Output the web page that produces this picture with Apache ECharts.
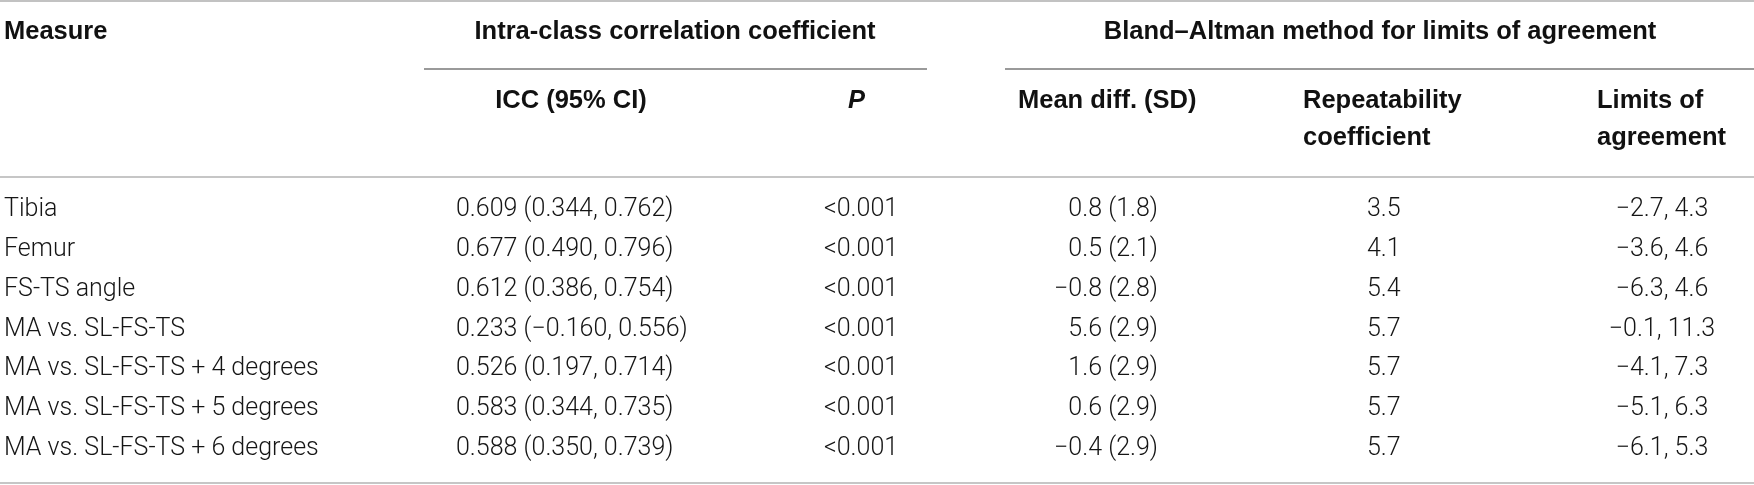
<!DOCTYPE html>
<html><head><meta charset="utf-8">
<script src="https://cdn.jsdelivr.net/npm/echarts@6/dist/echarts.min.js"></script>
<style>html,body{margin:0;padding:0;background:#fff}#c{width:1754px;height:485px}</style>
</head><body><div id="c"></div>
<script>
// ---- table content ----
const measures = ["Tibia","Femur","FS-TS angle","MA vs. SL-FS-TS","MA vs. SL-FS-TS + 4 degrees","MA vs. SL-FS-TS + 5 degrees","MA vs. SL-FS-TS + 6 degrees"];
const iccCI = ["0.609 (0.344, 0.762)","0.677 (0.490, 0.796)","0.612 (0.386, 0.754)","0.233 (\u22120.160, 0.556)","0.526 (0.197, 0.714)","0.583 (0.344, 0.735)","0.588 (0.350, 0.739)"];
const pValues = ["<0.001","<0.001","<0.001","<0.001","<0.001","<0.001","<0.001"];
const meanDiffSD = ["0.8 (1.8)","0.5 (2.1)","\u22120.8 (2.8)","5.6 (2.9)","1.6 (2.9)","0.6 (2.9)","\u22120.4 (2.9)"];
const repeatability = ["3.5","4.1","5.4","5.7","5.7","5.7","5.7"];
const limitsOfAgreement = ["\u22122.7, 4.3","\u22123.6, 4.6","\u22126.3, 4.6","\u22120.1, 11.3","\u22124.1, 7.3","\u22125.1, 6.3","\u22126.1, 5.3"];
const groupHeaders = ["Intra-class correlation coefficient","Bland\u2013Altman method for limits of agreement"];
const columnHeaders = ["Measure","ICC (95% CI)","P","Mean diff. (SD)","Repeatability","coefficient","Limits of","agreement"];

// ---- layout (styling only) ----
const W = 1754;
const dataFont = '300 25px Roboto, "Liberation Sans", sans-serif';
const headFont = 'bold 25.5px "Liberation Sans", Arial, sans-serif';
const ink = '#151515';
const columns = [
  {vals: measures, x: 4, align: 'left'},
  {vals: iccCI, x: 456, align: 'left'},
  {vals: pValues, x: 861, align: 'center'},
  {vals: meanDiffSD, x: 1158, align: 'right'},
  {vals: repeatability, x: 1367, align: 'left'},
  {vals: limitsOfAgreement, x: 1662, align: 'center'}
];

function colSeries(col) {
  return {
    type: 'custom',
    coordinateSystem: 'cartesian2d',
    silent: true,
    data: col.vals.map((v, i) => [col.x, i]),
    renderItem: function (params, api) {
      const p = api.coord([api.value(0), api.value(1)]);
      return {
        type: 'text',
        x: p[0], y: p[1],
        style: {
          text: col.vals[params.dataIndex],
          font: dataFont,
          fill: ink,
          align: col.align,
          verticalAlign: 'middle'
        }
      };
    }
  };
}

function txt(t, x, y, align, italic) {
  return {type: 'text', x: x, y: y, silent: true,
    style: {text: t, font: (italic ? 'italic ' : '') + headFont, fill: '#111', align: align, verticalAlign: 'middle'}};
}
function hline(x1, x2, y, color) {
  return {type: 'line', silent: true, shape: {x1: x1, y1: y, x2: x2, y2: y}, style: {stroke: color, lineWidth: 2}};
}

const chart = echarts.init(document.getElementById('c'), null, {renderer: 'canvas'});
chart.setOption({
  backgroundColor: '#fff',
  animation: false,
  grid: {left: 0, right: 0, top: 190, height: 278.6, containLabel: false},
  xAxis: {type: 'value', min: 0, max: W, show: false},
  yAxis: {type: 'category', data: measures, inverse: true, show: false},
  series: columns.map(colSeries),
  graphic: [
    hline(0, W, 1, '#c2c2c2'),
    hline(424, 927, 69, '#9a9a9a'),
    hline(1005, W, 69, '#9a9a9a'),
    hline(0, W, 177, '#c6c6c6'),
    hline(0, W, 483, '#c6c6c6'),
    txt(columnHeaders[0], 4, 32, 'left'),
    txt(groupHeaders[0], 675, 32, 'center'),
    txt(groupHeaders[1], 1380, 32, 'center'),
    txt(columnHeaders[1], 571, 101, 'center'),
    txt(columnHeaders[2], 848, 101, 'left', true),
    txt(columnHeaders[3], 1018, 101, 'left'),
    txt(columnHeaders[4], 1303, 101, 'left'),
    txt(columnHeaders[5], 1303, 138, 'left'),
    txt(columnHeaders[6], 1597, 101, 'left'),
    txt(columnHeaders[7], 1597, 138, 'left')
  ]
});
</script></body></html>
